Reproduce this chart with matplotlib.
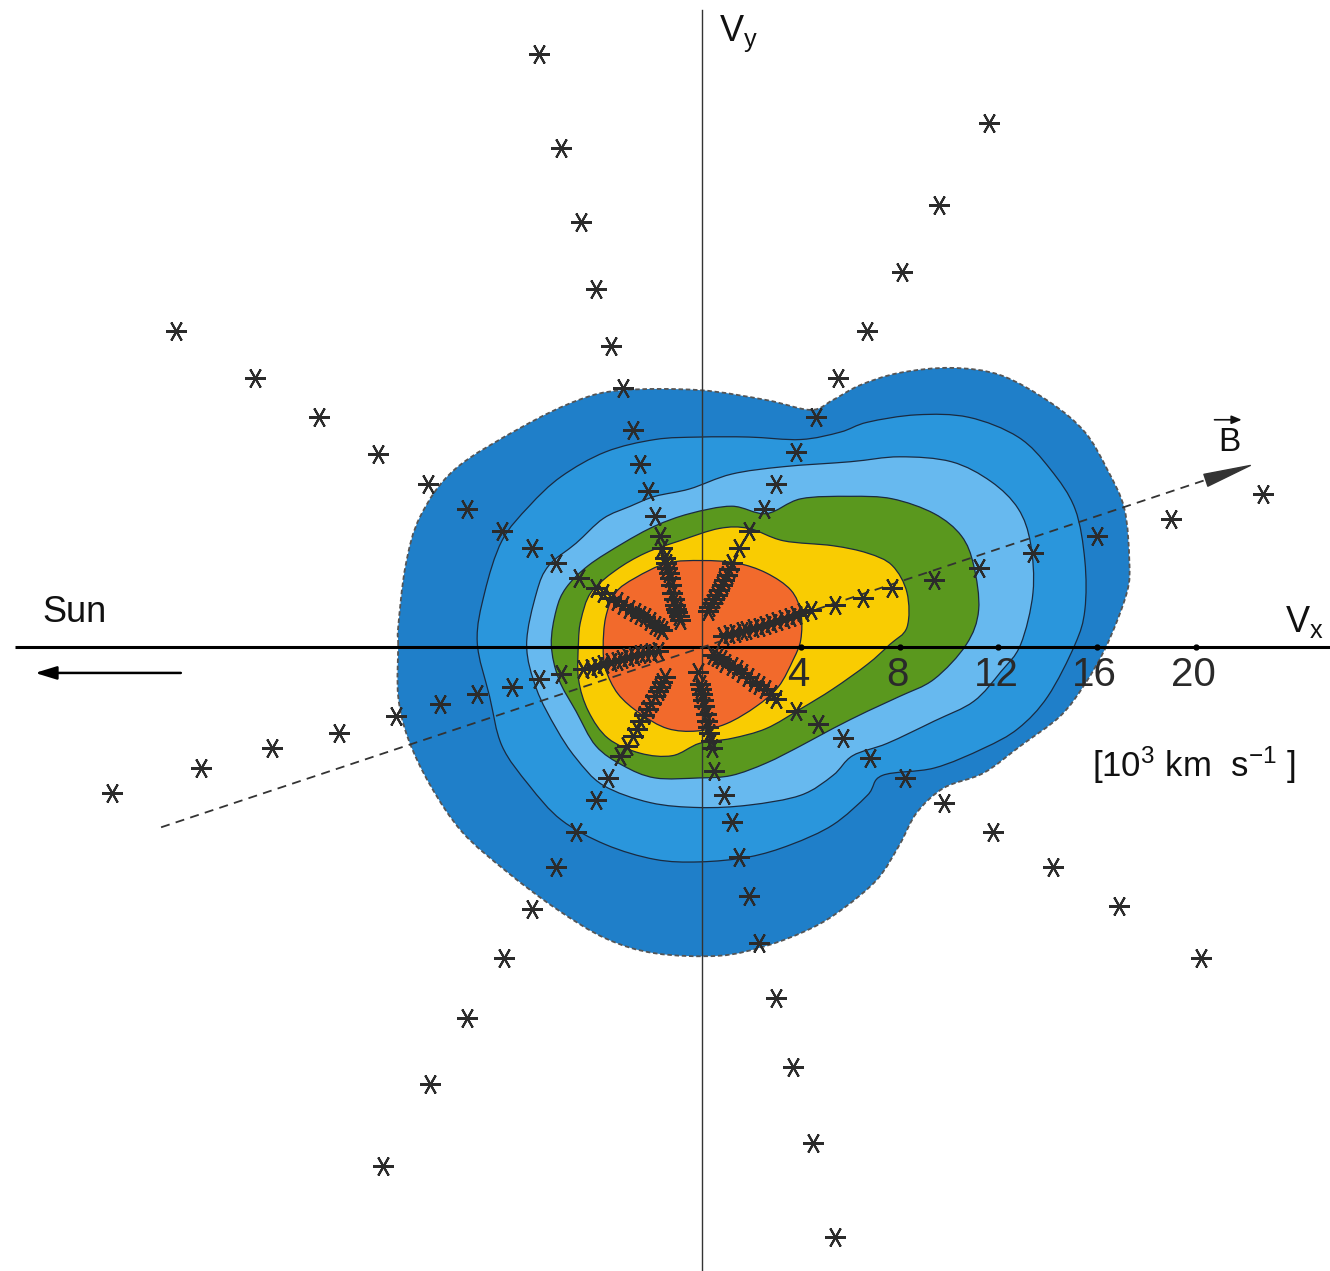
import numpy as np
import matplotlib
matplotlib.use("Agg")
import matplotlib.pyplot as plt
from matplotlib.path import Path
from matplotlib.patches import PathPatch

plt.rcParams['font.family'] = ['Liberation Sans', 'DejaVu Sans']
plt.rcParams['mathtext.fontset'] = 'custom'
plt.rcParams['mathtext.rm'] = 'Liberation Sans'
plt.rcParams['mathtext.it'] = 'Liberation Sans'
plt.rcParams['mathtext.default'] = 'regular'

# ---------------- data (units: 10^3 km/s) ----------------
# contour boundaries, outermost (level 1) to innermost (level 6)
c1_x = [-12.3, -12.3, -12.0, -11.4, -10.0, -7.3, -5.0, -3.2, -0.1, 2.6, 4.4, 5.3, 6.4, 8.0, 10.1, 12.1, 14.1,
        15.5, 16.4, 17.1, 17.3, 17.2, 16.4, 15.5, 14.5, 12.9, 11.4, 9.8, 8.7, 8.0, 7.1, 5.7, 4.4, 2.6, 0.7,
        -1.9, -3.9, -5.9, -7.9, -9.7, -11.0, -11.9, -12.3]
c1_y = [0.1, 0.8, 3.3, 5.3, 7.2, 8.9, 10.0, 10.4, 10.4, 10.0, 9.6, 10.0, 10.6, 11.1, 11.3, 11.0, 9.9,
        8.7, 7.2, 5.6, 3.5, 2.2, 0.1, -1.5, -2.8, -4.0, -5.1, -5.7, -6.7, -8.0, -9.4, -10.6, -11.4, -12.1, -12.5,
        -12.4, -11.8, -10.6, -9.1, -7.5, -5.6, -3.7, -2.0]
c2_x = [-9.1, -8.8, -8.1, -7.0, -5.7, -3.9, -1.9, -0.1, 1.9, 4.0, 5.6, 6.7, 8.7, 10.8, 12.8, 14.1, 15.1, 15.5,
        15.5, 15.1, 14.0, 12.8, 11.4, 9.4, 7.3, 6.7, 5.3, 3.6, 1.9, -0.1, -1.9, -3.9, -5.7, -7.0, -8.1, -8.6]
c2_y = [0.2, 2.2, 4.3, 5.7, 6.9, 7.9, 8.4, 8.5, 8.5, 8.4, 8.7, 9.1, 9.4, 9.3, 8.5, 7.2, 5.6, 3.5,
        1.5, 0.1, -2.0, -3.3, -4.1, -4.9, -5.2, -6.0, -7.2, -8.0, -8.5, -8.7, -8.6, -8.0, -7.0, -5.6, -4.0, -2.0]
c3_x = [-7.1, -6.7, -6.2, -5.1, -4.0, -2.9, -1.9, -0.5, 1.2, 3.3, 6.0, 8.0, 10.1, 11.7, 12.8, 13.3, 13.4,
        12.9, 12.1, 11.0, 9.4, 7.5, 6.1, 5.3, 4.0, 1.9, -0.1, -2.1, -4.0, -5.1, -5.9, -6.7]
c3_y = [0.1, 2.2, 3.3, 4.2, 5.2, 5.7, 6.1, 6.4, 7.0, 7.3, 7.5, 7.7, 7.5, 6.7, 5.6, 4.2, 2.2,
        0.1, -1.0, -2.2, -3.0, -3.9, -4.4, -5.2, -6.0, -6.4, -6.5, -6.3, -5.6, -4.5, -3.3, -1.7]
c4_x = [-6.1, -5.9, -5.5, -4.6, -3.2, -1.9, -0.5, 1.2, 2.6, 4.0, 6.0, 7.7, 9.4, 10.5, 11.0, 11.2, 10.7,
        9.4, 8.0, 6.7, 5.3, 4.0, 2.6, 1.2, -0.1, -1.9, -3.2, -4.3, -5.1, -5.8]
c4_y = [0.1, 1.5, 2.4, 3.3, 4.2, 4.9, 5.4, 5.7, 5.4, 6.0, 6.1, 6.0, 5.4, 4.5, 3.3, 1.5, 0.1,
        -1.3, -2.0, -2.6, -3.3, -4.0, -4.7, -5.2, -5.3, -5.3, -4.8, -4.0, -2.6, -1.3]
c5_x = [-5.0, -4.9, -4.5, -3.5, -2.3, -0.9, 0.7, 1.9, 3.3, 5.3, 6.7, 7.7, 8.3, 8.3, 7.6, 6.7, 5.3, 4.0,
        2.6, 1.2, -0.1, -1.2, -2.5, -3.8, -4.6, -5.0]
c5_y = [0.2, 1.1, 2.2, 3.1, 3.8, 4.3, 4.8, 4.8, 4.3, 4.1, 3.8, 3.3, 2.2, 0.8, 0.1, -0.7, -1.7, -2.5,
        -3.3, -3.7, -3.9, -4.4, -4.3, -3.7, -2.6, -1.3]
c6_x = [-4.0, -3.9, -3.5, -2.7, -1.4, 0.0, 1.4, 2.6, 3.6, 4.0, 4.0, 3.7, 3.1, 2.2, 1.0, -0.2, -1.4, -2.5,
        -3.4, -3.9]
c6_y = [0.0, 1.2, 2.2, 2.8, 3.4, 3.5, 3.4, 3.0, 2.3, 1.4, 0.3, -0.5, -1.6, -2.4, -3.1, -3.4, -3.3, -2.7,
        -1.9, -0.9]

# measurement points (asterisks) along the scan directions
star_x = [
    # upper steep
    -6.6, -5.7, -4.9, -4.3, -3.7, -3.2, -2.8, -2.5, -2.2, -1.9, -1.7, -1.6, -1.5, -1.45, -1.4, -1.35, -1.3,
    -1.25, -1.2, -1.15, -1.1, -1.05, -1.0, -0.95, -0.9,
    # upper right
    11.6, 9.6, 8.1, 6.7, 5.5, 4.6, 3.8, 3.0, 2.5, 1.9, 1.5, 1.2, 1.1, 1.0, 0.9, 0.8, 0.7, 0.6, 0.5, 0.4,
    0.3, 0.25,
    # lower steep
    5.4, 4.5, 3.7, 3.0, 2.3, 1.9, 1.5, 1.2, 0.9, 0.5, 0.4, 0.35, 0.3, 0.25, 0.2, 0.15, 0.1, 0.05, 0.0, -0.05,
    -0.1, -0.15,
    # lower left
    -12.9, -11.0, -9.5, -8.0, -6.9, -5.9, -5.1, -4.3, -3.8, -3.3, -3.05, -2.8, -2.65, -2.5, -2.35, -2.2,
    -2.05, -1.9, -1.8, -1.7, -1.6, -1.5,
    # upper left shallow
    -21.3, -18.1, -15.5, -13.1, -11.1, -9.5, -8.1, -6.9, -5.9, -5.0, -4.3, -4.0, -3.7, -3.45, -3.2, -2.95,
    -2.7, -2.5, -2.3, -2.1, -1.9, -1.75, -1.6,
    # lower right
    20.2, 16.9, 14.2, 11.8, 9.8, 8.2, 6.8, 5.7, 4.7, 3.8, 3.0, 2.8, 2.55, 2.3, 2.1, 1.85, 1.6, 1.4, 1.2,
    0.95, 0.75, 0.6, 0.45,
    # right (field direction)
    22.7, 19.0, 16.0, 13.4, 11.2, 9.4, 7.7, 6.5, 5.4, 4.4, 4.1, 3.8, 3.55, 3.3, 3.05, 2.8, 2.55, 2.3, 2.05,
    1.8, 1.6, 1.35, 1.1, 0.85,
    # left
    -23.9, -20.3, -17.4, -14.7, -12.4, -10.6, -9.1, -7.7, -6.6, -5.7, -4.8, -4.5, -4.25, -4.0, -3.7, -3.45,
    -3.25, -3.0, -2.75, -2.5, -2.3, -2.05, -1.8,
]
star_y = [
    24.0, 20.2, 17.2, 14.5, 12.2, 10.5, 8.8, 7.4, 6.3, 5.3, 4.5, 4.0, 3.6, 3.4, 3.2, 3.0, 2.8,
    2.5, 2.2, 1.95, 1.7, 1.55, 1.4, 1.25, 1.1,
    21.2, 17.9, 15.2, 12.8, 10.9, 9.3, 7.9, 6.6, 5.6, 4.7, 4.0, 3.4, 3.15, 2.9, 2.7, 2.5, 2.3, 2.1, 1.95, 1.8,
    1.6, 1.45,
    -23.9, -20.1, -17.0, -14.2, -12.0, -10.1, -8.5, -7.1, -6.0, -5.0, -4.1, -3.8, -3.5, -3.25, -3.0, -2.7,
    -2.4, -2.15, -1.9, -1.7, -1.5, -1.0,
    -21.0, -17.7, -15.0, -12.6, -10.6, -8.9, -7.5, -6.2, -5.3, -4.4, -4.0, -3.6, -3.3, -3.0, -2.75, -2.5,
    -2.25, -2.0, -1.8, -1.6, -1.4, -1.2,
    12.8, 10.9, 9.3, 7.8, 6.6, 5.6, 4.7, 4.0, 3.4, 2.8, 2.4, 2.2, 2.0, 1.85, 1.7, 1.55, 1.4, 1.3, 1.2,
    1.05, 0.9, 0.8, 0.7,
    -12.6, -10.5, -8.9, -7.5, -6.3, -5.3, -4.5, -3.7, -3.1, -2.6, -2.1, -1.9, -1.7, -1.55, -1.4, -1.22,
    -1.05, -0.9, -0.77, -0.63, -0.49, -0.4, -0.32,
    6.2, 5.2, 4.5, 3.8, 3.2, 2.7, 2.4, 2.0, 1.7, 1.5, 1.4, 1.3, 1.22, 1.13, 1.05, 0.97, 0.89, 0.81, 0.75,
    0.69, 0.63, 0.57, 0.51, 0.45,
    -5.9, -4.9, -4.1, -3.5, -2.8, -2.3, -1.9, -1.6, -1.3, -1.1, -0.9, -0.84, -0.77, -0.69, -0.61, -0.55,
    -0.49, -0.42, -0.36, -0.3, -0.24, -0.2, -0.16,
]

tick_values = [4, 8, 12, 16, 20]
tick_labels = ['4', '8', '12', '16', '20']

b_line_x = [-21.9, 20.5]
b_line_y = [-7.3, 6.8]

fill_colors = ['#1f7fc9', '#2a96dc', '#67b9ef', '#5a981e', '#f9cc02', '#f26a2c']

# ---------------- figure ----------------
PX = 24.7  # pixels per unit
fig = plt.figure(figsize=(13.3, 12.71), dpi=100)
ax = fig.add_axes([0, 0, 1, 1])
x0, x1 = -702 / PX, 628 / PX
y0, y1 = -624 / PX, 647 / PX
ax.set_xlim(x0, x1)
ax.set_ylim(y0, y1)
ax.axis('off')


def smooth_closed(xs, ys):
    P = np.column_stack([xs, ys])
    n = len(P)
    verts = [P[0]]
    codes = [Path.MOVETO]
    for i in range(n):
        p0, p1, p2, p3 = P[(i - 1) % n], P[i], P[(i + 1) % n], P[(i + 2) % n]
        c1 = p1 + (p2 - p0) / 6.0
        c2 = p2 - (p3 - p1) / 6.0
        verts += [c1, c2, p2]
        codes += [Path.CURVE4] * 3
    verts.append(P[0])
    codes.append(Path.CLOSEPOLY)
    return Path(np.array(verts), codes)


levels = [(c1_x, c1_y), (c2_x, c2_y), (c3_x, c3_y), (c4_x, c4_y), (c5_x, c5_y), (c6_x, c6_y)]
for k, ((cx, cy), col) in enumerate(zip(levels, fill_colors)):
    path = smooth_closed(cx, cy)
    ax.add_patch(PathPatch(path, facecolor=col, edgecolor='none', zorder=1 + k * 0.1))
for k, (cx, cy) in enumerate(levels):
    path = smooth_closed(cx, cy)
    if k == 0:
        ax.add_patch(PathPatch(path, facecolor='none', edgecolor='#555555', lw=1.3,
                               linestyle=(0, (2.5, 1.5)), zorder=2))
    else:
        ax.add_patch(PathPatch(path, facecolor='none', edgecolor='#1a2a40', lw=0.9, zorder=2))

# axes lines
ax.plot([x0 + 15 / PX, x1], [0, 0], color='black', lw=2.2, zorder=3, solid_capstyle='butt')
ax.plot([0, 0], [y0, y1 - 10 / PX], color='#333333', lw=1.0, zorder=3)
ax.plot(tick_values, [0] * len(tick_values), 'o', color='black', ms=3.5, zorder=3)
for v, lab in zip(tick_values, tick_labels):
    ax.text(v - 0.1, -0.35, lab, ha='center', va='top', fontsize=29, color='#2a2a2a',
            family=['Liberation Sans', 'DejaVu Sans'], zorder=4)

# B direction
ax.plot(b_line_x, b_line_y, color='#333333', lw=1.3, linestyle=(0, (5, 3.5)), zorder=3)
ax.annotate('', xy=(22.2, 7.35), xytext=(20.4, 6.75),
            arrowprops=dict(arrowstyle='wedge,tail_width=0.45,shrink_factor=0.5', color='#333333',
                            shrinkA=0, shrinkB=0, mutation_scale=20), zorder=4)
ax.text(21.34, 8.26, 'B', ha='center', va='center', fontsize=24, color='#111111')
ax.annotate('', xy=(21.85, 9.2), xytext=(20.75, 9.2),
            arrowprops=dict(arrowstyle='-|>,head_length=0.6,head_width=0.25', color='#111111', lw=1.2,
                            shrinkA=0, shrinkB=0, mutation_scale=10))

# stars
ax.plot(star_x, star_y, linestyle='none', marker=(6, 2, 90), ms=15, mew=1.5, color='#2b2b2b', zorder=5)

# Sun arrow and labels
ax.annotate('', xy=(-27.0, -1.05), xytext=(-21.1, -1.05),
            arrowprops=dict(arrowstyle='-|>,head_length=1.3,head_width=0.4', color='black', lw=1.8,
                            shrinkA=0, shrinkB=0, mutation_scale=10))
ax.text(-25.4, 1.4, 'Sun', ha='center', va='center', fontsize=26, color='#111111')
ax.text(23.6, 0.6, r'V$_{x}$', ha='left', va='baseline', fontsize=26, color='#111111')
ax.text(0.7, 24.55, r'V$_{y}$', ha='left', va='baseline', fontsize=26, color='#111111')
ax.text(15.8, -5.25, r'[10$^{3}$ km  s$^{-1}$ ]', ha='left', va='baseline', fontsize=25, color='#111111')

fig.savefig('out.png', dpi=100, facecolor='white')
